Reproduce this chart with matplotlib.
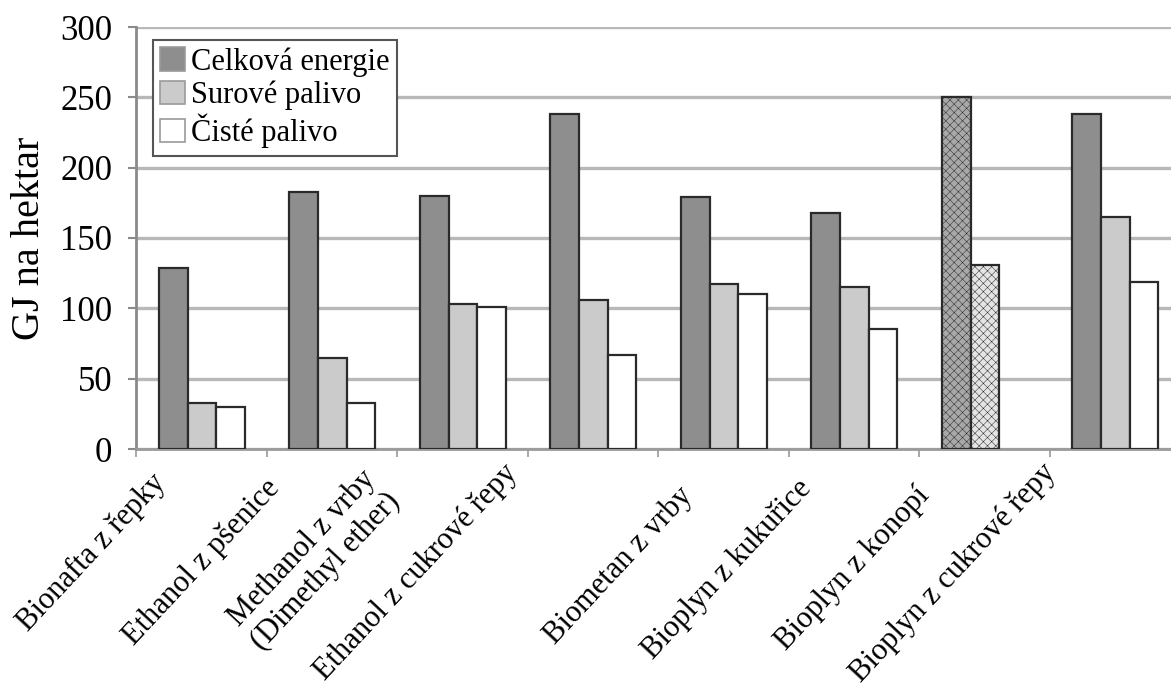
import numpy as np
import matplotlib
matplotlib.use("Agg")
import matplotlib.pyplot as plt
from matplotlib.transforms import ScaledTranslation

plt.rcParams['font.family'] = ['Liberation Serif', 'DejaVu Serif']
plt.rcParams['hatch.linewidth'] = 0.35

## Data
categories = ["Bionafta z řepky", "Ethanol z pšenice",
              "Methanol z vrby\n(Dimethyl ether)", "Ethanol z cukrové řepy",
              "Biometan z vrby", "Bioplyn z kukuřice", "Bioplyn z konopí",
              "Bioplyn z cukrové řepy"]
celkova = [129, 183, 180, 238, 179, 168, 250, 238]
surove  = [33, 65, 103, 106, 117, 115, 131, 165]
ciste   = [30, 33, 101, 67, 110, 85, np.nan, 119]
series_names = ["Celková energie", "Surové palivo", "Čisté palivo"]

## Layout / style
colors = ["#8e8e8e", "#cbcbcb", "#ffffff"]
hatched = 6     # index of the category drawn with a hatch (Bioplyn z konopí)
# label shifts in pixels (x right, y down) relative to tick position
label_dx = [-51, -68, -102, -91, -46, -57, -70, -75]
label_dy = [19, 25, 15, 9, 32, 25, 32, 9]

fig = plt.figure(figsize=(11.71, 6.90), dpi=100)
ax = fig.add_axes([136/1171, 1 - 449/690, 1044/1171, 422/690])

x = np.arange(len(categories))
w = 0.22
for k, (vals, col, name) in enumerate(zip([celkova, surove, ciste], colors, series_names)):
    bars = ax.bar(x + (k - 1) * w + 0.005, vals, w, color=col, edgecolor="#2a2a2a",
                  linewidth=1.6, label=name, zorder=3)
    b = bars[hatched]
    if not np.isnan(vals[hatched]):
        b.set_hatch("xxxx")
        b.set_facecolor("#a8a8a8" if k == 0 else "#e4e4e4")

ax.set_xlim(-0.5, len(categories) - 0.5)
ax.set_ylim(0, 300)
ax.set_yticks(np.arange(0, 301, 50))
ax.yaxis.grid(True, color="#b8b8b8", linewidth=2.4, zorder=0)
ax.set_axisbelow(True)

for s in ["top", "right"]:
    ax.spines[s].set_visible(False)
ax.spines["left"].set_color("#8a8a8a")
ax.spines["left"].set_linewidth(2)
ax.spines["bottom"].set_color("#9a9a9a")
ax.spines["bottom"].set_linewidth(2)

ax.tick_params(axis="y", labelsize=25, length=6, width=1.5, color="#8a8a8a", pad=11)
ax.set_xticks(x)
ax.set_xticks(x - 0.5, minor=True)
ax.tick_params(axis="x", which="major", length=0, pad=0)
ax.tick_params(axis="x", which="minor", length=6, width=1.2, color="#9a9a9a")
ax.set_xticklabels(categories, rotation=47, ha="right", va="top",
                   rotation_mode="anchor", fontsize=22, multialignment="center")
for lab, dx, dy in zip(ax.get_xticklabels(), label_dx, label_dy):
    lab.set_transform(lab.get_transform() + ScaledTranslation(dx / 100, -dy / 100, fig.dpi_scale_trans))

ax.set_ylabel("GJ na hektar", fontsize=29, labelpad=9)

leg = ax.legend(loc="upper left", bbox_to_anchor=(0.016, 0.97), borderaxespad=0,
                fontsize=22, fancybox=False, framealpha=1, edgecolor="#555555",
                handlelength=0.8, handleheight=0.8, handletextpad=0.2,
                labelspacing=0.12, borderpad=0.25)
leg.get_frame().set_linewidth(1.5)
for h in leg.legend_handles:
    h.set_edgecolor("#9a9a9a")
    h.set_linewidth(1.2)

fig.savefig("out.png", dpi=100)
